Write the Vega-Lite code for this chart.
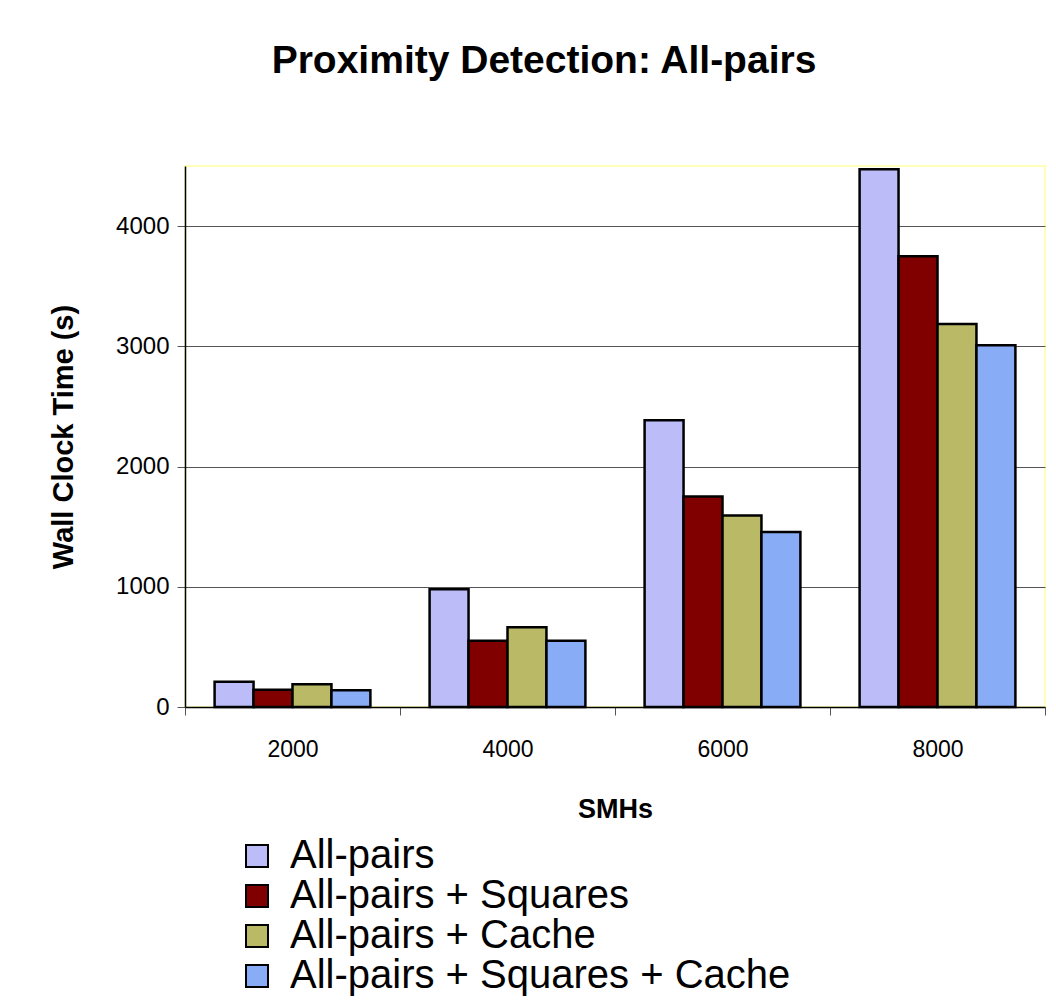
{
  "$schema": "https://vega.github.io/schema/vega-lite/v6.json",
  "autosize": "none",
  "width": 860,
  "height": 541,
  "padding": {"left": 185, "top": 166, "right": 11, "bottom": 299},
  "background": "white",
  "title": {
    "text": "Proximity Detection: All-pairs",
    "font": "Liberation Sans",
    "fontSize": 39,
    "fontWeight": "bold",
    "color": "black",
    "anchor": "middle",
    "frame": "group",
    "dx": -71,
    "baseline": "alphabetic",
    "offset": 54
  },
  "data": {
    "values": [
      {"smh": "2000", "variant": "All-pairs", "time": 210},
      {"smh": "2000", "variant": "All-pairs + Squares", "time": 144},
      {"smh": "2000", "variant": "All-pairs + Cache", "time": 189},
      {"smh": "2000", "variant": "All-pairs + Squares + Cache", "time": 140},
      {"smh": "4000", "variant": "All-pairs", "time": 979},
      {"smh": "4000", "variant": "All-pairs + Squares", "time": 551},
      {"smh": "4000", "variant": "All-pairs + Cache", "time": 663},
      {"smh": "4000", "variant": "All-pairs + Squares + Cache", "time": 551},
      {"smh": "6000", "variant": "All-pairs", "time": 2386},
      {"smh": "6000", "variant": "All-pairs + Squares", "time": 1750},
      {"smh": "6000", "variant": "All-pairs + Cache", "time": 1592},
      {"smh": "6000", "variant": "All-pairs + Squares + Cache", "time": 1455},
      {"smh": "8000", "variant": "All-pairs", "time": 4474},
      {"smh": "8000", "variant": "All-pairs + Squares", "time": 3750},
      {"smh": "8000", "variant": "All-pairs + Cache", "time": 3185},
      {"smh": "8000", "variant": "All-pairs + Squares + Cache", "time": 3008}
    ]
  },
  "mark": {"type": "bar", "stroke": "black", "strokeWidth": 2.5, "opacity": 1, "fillOpacity": 1},
  "encoding": {
    "x": {
      "field": "smh",
      "type": "nominal",
      "sort": ["2000", "4000", "6000", "8000"],
      "scale": {"paddingInner": 0, "paddingOuter": 0},
      "axis": {
        "title": "SMHs",
        "labelAngle": 0,
        "tickBand": "extent",
        "tickSize": 8,
        "tickColor": "#555",
        "domainColor": "black",
        "domainWidth": 1.5,
        "labelFont": "Liberation Sans",
        "labelFontSize": 23,
        "labelColor": "black",
        "labelPadding": 23,
        "titleFont": "Liberation Sans",
        "titleFontSize": 27,
        "titleFontWeight": "bold",
        "titleColor": "black",
        "titlePadding": 35,
        "grid": false
      }
    },
    "xOffset": {
      "field": "variant",
      "type": "nominal",
      "sort": ["All-pairs", "All-pairs + Squares", "All-pairs + Cache", "All-pairs + Squares + Cache"],
      "scale": {"paddingInner": 0, "paddingOuter": 0.76}
    },
    "y": {
      "field": "time",
      "type": "quantitative",
      "scale": {"domain": [0, 4500], "nice": false},
      "axis": {
        "title": "Wall Clock Time (s)",
        "values": [0, 1000, 2000, 3000, 4000],
        "format": "d",
        "tickSize": 8,
        "tickColor": "#555",
        "domainColor": "black",
        "domainWidth": 1.5,
        "gridColor": "#555",
        "gridWidth": 1,
        "labelFont": "Liberation Sans",
        "labelFontSize": 24,
        "labelColor": "black",
        "labelPadding": 8,
        "titleFont": "Liberation Sans",
        "titleFontSize": 29,
        "titleFontWeight": "bold",
        "titleColor": "black",
        "titlePadding": 37
      }
    },
    "color": {
      "field": "variant",
      "type": "nominal",
      "sort": ["All-pairs", "All-pairs + Squares", "All-pairs + Cache", "All-pairs + Squares + Cache"],
      "scale": {
        "domain": ["All-pairs", "All-pairs + Squares", "All-pairs + Cache", "All-pairs + Squares + Cache"],
        "range": ["#BCBCF8", "#800000", "#B9B966", "#88ACF6"]
      },
      "legend": {
        "title": null,
        "orient": "none",
        "legendX": 52,
        "legendY": 670,
        "symbolType": "square",
        "symbolSize": 484,
        "symbolStrokeColor": "black",
        "symbolStrokeWidth": 2,
        "symbolOpacity": 1,
        "labelFont": "Liberation Sans",
        "labelFontSize": 40,
        "labelColor": "black",
        "labelOffset": 13,
        "rowPadding": 0,
        "labelLimit": 1000
      }
    }
  },
  "config": {
    "view": {"stroke": "#FFFFB8", "strokeWidth": 2},
    "axis": {"gridColor": "#555"}
  }
}
